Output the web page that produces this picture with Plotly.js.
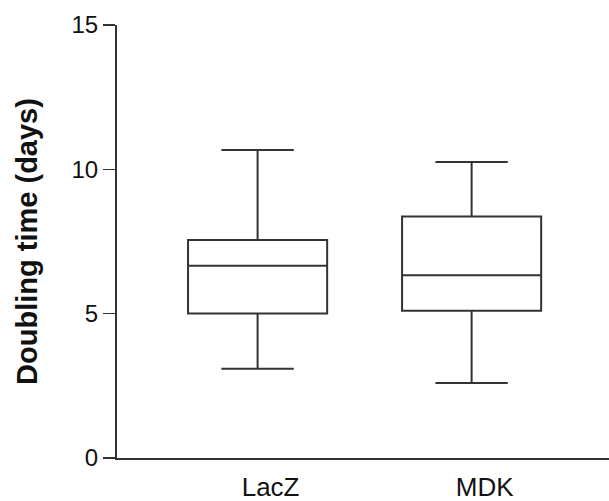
<!DOCTYPE html>
<html>
<head>
<meta charset="utf-8">
<script src="https://cdn.plot.ly/plotly-3.0.1.min.js"></script>
<style>html,body{margin:0;padding:0;background:#fff;}#chart{width:609px;height:501px;}</style>
</head>
<body>
<div id="chart"></div>
<script>
// Data
const categories = ['LacZ', 'MDK'];
const lowerWhisker = [3.09, 2.60];
const q1Vals = [5.01, 5.10];
const medianVals = [6.66, 6.33];
const q3Vals = [7.55, 8.37];
const upperWhisker = [10.67, 10.25];
const yTickVals = [0, 5, 10, 15];

const lineColor = '#333333';

const trace = {
  type: 'box',
  x: categories,
  q1: q1Vals,
  median: medianVals,
  q3: q3Vals,
  lowerfence: lowerWhisker,
  upperfence: upperWhisker,
  width: 0.65,
  whiskerwidth: 0.52,
  fillcolor: 'white',
  line: {color: lineColor, width: 2},
  boxpoints: false,
  hoverinfo: 'skip'
};

const layout = {
  width: 609,
  height: 501,
  margin: {l: 117, r: 0, t: 25, b: 43},
  paper_bgcolor: 'white',
  plot_bgcolor: 'white',
  showlegend: false,
  font: {family: '"Liberation Sans", Arial, sans-serif', color: '#111'},
  xaxis: {
    type: 'category',
    range: [-0.657, 1.642],
    showgrid: false,
    zeroline: false,
    showline: true,
    linecolor: lineColor,
    linewidth: 2,
    ticks: '',
    ticklabelshift: 13,
    ticklabelstandoff: 5,
    tickfont: {size: 26, color: '#111'}
  },
  yaxis: {
    range: [0, 15],
    tickvals: yTickVals,
    ticktext: yTickVals.map(String),
    showgrid: false,
    zeroline: false,
    showline: true,
    linecolor: lineColor,
    linewidth: 2,
    ticks: 'outside',
    ticklen: 12,
    tickwidth: 1.5,
    tickcolor: lineColor,
    tickfont: {size: 24, color: '#111'},
    title: {
      text: '<b>Doubling time (days)</b>',
      font: {size: 29, color: '#111'},
      standoff: 25
    }
  }
};

Plotly.newPlot('chart', [trace], layout, {displayModeBar: false, staticPlot: true});
</script>
</body>
</html>
